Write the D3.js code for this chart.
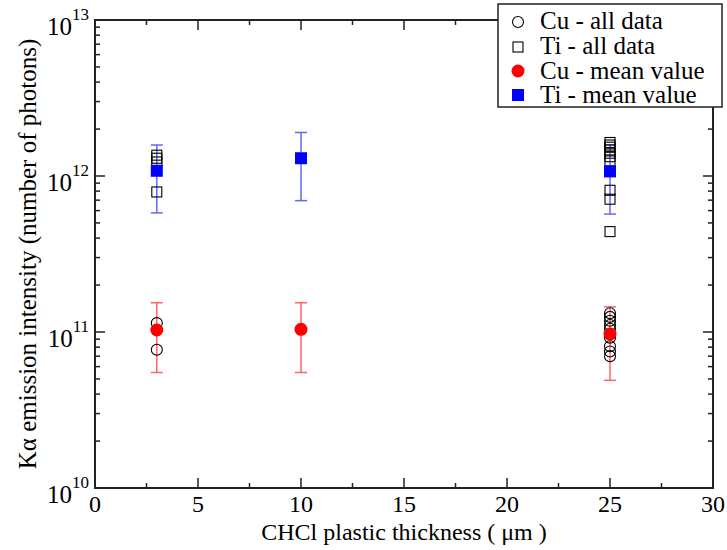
<!DOCTYPE html>
<html><head><meta charset="utf-8">
<script src="https://cdn.jsdelivr.net/npm/d3@7"></script>
</head><body style="margin:0">
<svg id="c" width="727" height="550" style="font-family: 'Liberation Serif', Tinos, 'Times New Roman', Times, 'Nimbus Roman', FreeSerif;"></svg>
<script>
// ---- data ----
const cuAllX = [3, 3, 25, 25, 25, 25, 25, 25, 25, 25, 25];
const cuAllY = [1.14e11, 7.7e10, 1.32e11, 1.25e11, 1.18e11, 1.11e11, 1.05e11, 9.2e10, 8.1e10, 7.5e10, 7.0e10];
const tiAllX = [3, 3, 3, 3, 25, 25, 25, 25, 25, 25, 25, 25, 25, 25];
const tiAllY = [1.36e12, 1.30e12, 1.23e12, 7.9e11, 1.64e12, 1.58e12, 1.53e12, 1.47e12, 1.40e12, 1.33e12, 1.25e12, 8.1e11, 7.1e11, 4.4e11];
const meanX = [3, 10, 25];
const cuMean = [1.03e11, 1.04e11, 9.7e10];
const cuErrHi = [1.54e11, 1.54e11, 1.45e11];
const cuErrLo = [5.5e10, 5.5e10, 4.9e10];
const tiMean = [1.08e12, 1.30e12, 1.07e12];
const tiErrHi = [1.58e12, 1.90e12, 1.58e12];
const tiErrLo = [5.8e11, 6.95e11, 5.7e11];
const xTicks = [0, 5, 10, 15, 20, 25, 30];
const yTickExps = [10, 11, 12, 13];
const legendLabels = ["Cu - all data", "Ti - all data", "Cu - mean value", "Ti - mean value"];

const svg = d3.select("#c");
const L = 95, R = 713, T = 20, B = 488;
const x = d3.scaleLinear().domain([0, 30]).range([L, R]);
const y = d3.scaleLog().domain([1e10, 1e13]).range([B, T]);

function txt(sel, size) {
  return sel.append("text").style("font-family", "'Liberation Serif', Tinos, 'Times New Roman', Times")
    .attr("font-size", size).attr("fill", "#000");
}

const g = svg.append("g");
const xMinor = d3.range(0, 30.01, 2.5);
xMinor.forEach(v => {
  const isMajor = Math.abs(v % 5) < 1e-9;
  const len = isMajor ? 10 : 5;
  g.append("line").attr("x1", x(v)).attr("x2", x(v)).attr("y1", B).attr("y2", B - len).attr("stroke", "#222").attr("stroke-width", 1.5);
  g.append("line").attr("x1", x(v)).attr("x2", x(v)).attr("y1", T).attr("y2", T + len).attr("stroke", "#222").attr("stroke-width", 1.5);
});
for (let e = 10; e < 13; e++) {
  for (let m = 1; m <= 9; m++) {
    const v = m * Math.pow(10, e);
    const len = m === 1 ? 10 : 5;
    g.append("line").attr("x1", L).attr("x2", L + len).attr("y1", y(v)).attr("y2", y(v)).attr("stroke", "#222").attr("stroke-width", 1.5);
    g.append("line").attr("x1", R).attr("x2", R - len).attr("y1", y(v)).attr("y2", y(v)).attr("stroke", "#222").attr("stroke-width", 1.5);
  }
}
g.append("rect").attr("x", L).attr("y", T).attr("width", R - L).attr("height", B - T)
  .attr("fill", "none").attr("stroke", "#222").attr("stroke-width", 2);

xTicks.forEach(v => {
  txt(svg, 24).attr("x", x(v)).attr("y", B + 24).attr("text-anchor", "middle").text(v);
});
yTickExps.forEach(e => {
  const t = txt(svg, 25).attr("x", L - 6).attr("y", y(Math.pow(10, e)) + 15).attr("text-anchor", "end");
  t.append("tspan").text("10");
  t.append("tspan").attr("dy", -15).attr("font-size", 17).text(e);
});

txt(svg, 24).attr("x", (L + R) / 2).attr("y", 540).attr("text-anchor", "middle")
  .text("CHCl plastic thickness ( μm )");
txt(svg, 25).attr("transform", `translate(36,${(T + B) / 2}) rotate(-90)`).attr("text-anchor", "middle")
  .text("Kα emission intensity (number of photons)");

function errBars(hi, lo, color) {
  meanX.forEach((xv, i) => {
    const eg = svg.append("g").attr("stroke", color).attr("stroke-width", 1.5).attr("opacity", 0.6);
    eg.append("line").attr("x1", x(xv)).attr("x2", x(xv)).attr("y1", y(hi[i])).attr("y2", y(lo[i]));
    eg.append("line").attr("x1", x(xv) - 6).attr("x2", x(xv) + 6).attr("y1", y(hi[i])).attr("y2", y(hi[i]));
    eg.append("line").attr("x1", x(xv) - 6).attr("x2", x(xv) + 6).attr("y1", y(lo[i])).attr("y2", y(lo[i]));
  });
}
errBars(cuErrHi, cuErrLo, "#ff0000");
errBars(tiErrHi, tiErrLo, "#0000ff");

cuAllX.forEach((xv, i) => {
  svg.append("circle").attr("cx", x(xv)).attr("cy", y(cuAllY[i])).attr("r", 5.5)
    .attr("fill", "none").attr("stroke", "#000").attr("stroke-width", 1.1);
});
tiAllX.forEach((xv, i) => {
  svg.append("rect").attr("x", x(xv) - 5).attr("y", y(tiAllY[i]) - 5).attr("width", 10).attr("height", 10)
    .attr("fill", "none").attr("stroke", "#000").attr("stroke-width", 1.1);
});
meanX.forEach((xv, i) => {
  svg.append("circle").attr("cx", x(xv)).attr("cy", y(cuMean[i])).attr("r", 6.5).attr("fill", "#ff0000");
  svg.append("rect").attr("x", x(xv) - 6).attr("y", y(tiMean[i]) - 6).attr("width", 12).attr("height", 12).attr("fill", "#0000ff");
});

const lg = svg.append("g");
lg.append("rect").attr("x", 498).attr("y", 4).attr("width", 224).attr("height", 103)
  .attr("fill", "#fff").attr("stroke", "#222").attr("stroke-width", 1.5);
const symY = [22, 47, 71, 95];
const baseY = [29, 54, 79, 103];
legendLabels.forEach((lab, i) => {
  const cy = symY[i];
  if (i === 0) lg.append("circle").attr("cx", 518).attr("cy", cy).attr("r", 5.5).attr("fill", "none").attr("stroke", "#000").attr("stroke-width", 1.1);
  if (i === 1) lg.append("rect").attr("x", 513).attr("y", cy - 5).attr("width", 10).attr("height", 10).attr("fill", "none").attr("stroke", "#000").attr("stroke-width", 1.1);
  if (i === 2) lg.append("circle").attr("cx", 518).attr("cy", cy).attr("r", 6.5).attr("fill", "#ff0000");
  if (i === 3) lg.append("rect").attr("x", 512).attr("y", cy - 6).attr("width", 12).attr("height", 12).attr("fill", "#0000ff");
  txt(lg, 25).attr("x", 540).attr("y", baseY[i]).text(lab);
});
</script>
</body></html>
